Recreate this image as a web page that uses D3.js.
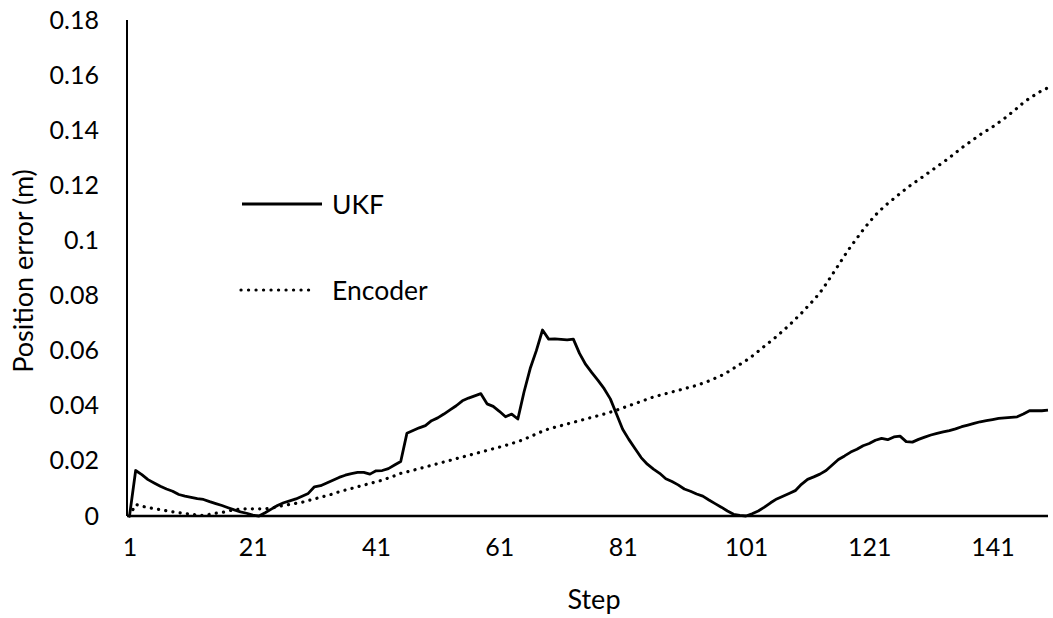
<!DOCTYPE html>
<html>
<head>
<meta charset="utf-8">
<script src="https://cdn.jsdelivr.net/npm/d3@7"></script>
<style>
  html, body { margin: 0; padding: 0; background: #fff; }
  svg { display: block; font-family: Lato, "Noto Sans", sans-serif; }
</style>
</head>
<body>
<svg id="chart" width="1053" height="618"></svg>
<script>
// ---- data ----
const steps = d3.range(1, 151);
const xTickLabels = [1, 21, 41, 61, 81, 101, 121, 141];
const yTickLabels = [0, 0.02, 0.04, 0.06, 0.08, 0.1, 0.12, 0.14, 0.16, 0.18];
const seriesNames = ["UKF", "Encoder"];

const ukf = [
  0.0000, 0.0165, 0.0150, 0.0132, 0.0120, 0.0108, 0.0098, 0.0090, 0.0078, 0.0072,
  0.0068, 0.0063, 0.0060, 0.0052, 0.0045, 0.0038, 0.0030, 0.0022, 0.0015, 0.0010,
  0.0003, 0.0000, 0.0012, 0.0025, 0.0038, 0.0048, 0.0055, 0.0062, 0.0072, 0.0082,
  0.0106, 0.0110, 0.0120, 0.0130, 0.0140, 0.0148, 0.0154, 0.0158, 0.0158, 0.0152,
  0.0164, 0.0165, 0.0172, 0.0185, 0.0198, 0.0300, 0.0310, 0.0320, 0.0328, 0.0346,
  0.0356, 0.0370, 0.0385, 0.0400, 0.0418, 0.0428, 0.0436, 0.0444, 0.0407, 0.0398,
  0.0380, 0.0360, 0.0370, 0.0352, 0.0450, 0.0535, 0.0600, 0.0675, 0.0642, 0.0643,
  0.0641, 0.0639, 0.0642, 0.0590, 0.0550, 0.0520, 0.0492, 0.0462, 0.0425, 0.0370,
  0.0315, 0.0278, 0.0245, 0.0212, 0.0188, 0.0170, 0.0155, 0.0135, 0.0125, 0.0113,
  0.0098, 0.0090, 0.0080, 0.0072, 0.0058, 0.0045, 0.0032, 0.0018, 0.0006, 0.0002,
  0.0000, 0.0008, 0.0018, 0.0032, 0.0048, 0.0062, 0.0072, 0.0082, 0.0092, 0.0115,
  0.0133, 0.0142, 0.0152, 0.0165, 0.0185, 0.0205, 0.0218, 0.0232, 0.0242, 0.0255,
  0.0263, 0.0275, 0.0282, 0.0277, 0.0287, 0.0290, 0.0270, 0.0268, 0.0278, 0.0286,
  0.0294, 0.0300, 0.0305, 0.0310, 0.0316, 0.0324, 0.0330, 0.0336, 0.0342, 0.0346,
  0.0350, 0.0354, 0.0356, 0.0358, 0.0360, 0.0370, 0.0382, 0.0382, 0.0382, 0.0384
];

const encoder = [
  0.0000, 0.0042, 0.0036, 0.0030, 0.0027, 0.0023, 0.0019, 0.0015, 0.0012, 0.0009,
  0.0007, 0.0003, 0.0002, 0.0006, 0.0010, 0.0013, 0.0018, 0.0023, 0.0025, 0.0026,
  0.0026, 0.0026, 0.0026, 0.0028, 0.0034, 0.0038, 0.0042, 0.0046, 0.0050, 0.0056,
  0.0062, 0.0068, 0.0074, 0.0080, 0.0088, 0.0094, 0.0100, 0.0106, 0.0112, 0.0118,
  0.0124, 0.0130, 0.0138, 0.0146, 0.0155, 0.0160, 0.0166, 0.0172, 0.0178, 0.0184,
  0.0190, 0.0196, 0.0202, 0.0208, 0.0214, 0.0220, 0.0226, 0.0232, 0.0238, 0.0244,
  0.0250, 0.0256, 0.0263, 0.0270, 0.0278, 0.0288, 0.0298, 0.0308, 0.0316, 0.0322,
  0.0328, 0.0334, 0.0340, 0.0346, 0.0352, 0.0358, 0.0364, 0.0370, 0.0377, 0.0384,
  0.0392, 0.0400, 0.0408, 0.0416, 0.0424, 0.0432, 0.0438, 0.0444, 0.0450, 0.0456,
  0.0462, 0.0468, 0.0474, 0.0482, 0.0490, 0.0500, 0.0510, 0.0522, 0.0536, 0.0550,
  0.0564, 0.0580, 0.0598, 0.0616, 0.0634, 0.0652, 0.0672, 0.0692, 0.0714, 0.0736,
  0.0760, 0.0784, 0.0810, 0.0842, 0.0876, 0.0910, 0.0945, 0.0978, 0.1008, 0.1038,
  0.1066, 0.1092, 0.1114, 0.1134, 0.1152, 0.1170, 0.1188, 0.1205, 0.1220, 0.1236,
  0.1252, 0.1268, 0.1284, 0.1300, 0.1318, 0.1336, 0.1352, 0.1368, 0.1384, 0.1398,
  0.1412, 0.1428, 0.1444, 0.1462, 0.1480, 0.1500, 0.1516, 0.1530, 0.1544, 0.1554
];

// ---- layout ----
const svg = d3.select("#chart");
const plotLeft = 127, plotRight = 1048, plotTop = 20, plotBottom = 516;
const tickFont = 25, titleFont = 27, legendFont = 26.5;

const x = d3.scaleLinear().domain([1, 150]).range([129.5, 1048]);
const y = d3.scaleLinear().domain([0, 0.18]).range([plotBottom, plotTop]);

// y axis
const yAxis = d3.axisLeft(y)
  .tickValues(yTickLabels)
  .tickSize(0)
  .tickPadding(28)
  .tickFormat(d => d === 0 ? "0" : String(+d.toFixed(2)));
const gy = svg.append("g").attr("transform", `translate(${plotLeft},0)`).call(yAxis);
gy.select(".domain").remove();
gy.selectAll("text").attr("font-size", tickFont).attr("fill", "#000")
  .attr("font-family", "Lato, 'Noto Sans', sans-serif");

// x axis
const xAxis = d3.axisBottom(x)
  .tickValues(xTickLabels)
  .tickSize(0)
  .tickPadding(22)
  .tickFormat(d3.format("d"));
const gx = svg.append("g").attr("transform", `translate(0,${plotBottom})`).call(xAxis);
gx.select(".domain").remove();
gx.selectAll("text").attr("font-size", tickFont).attr("fill", "#000")
  .attr("font-family", "Lato, 'Noto Sans', sans-serif");

// axis lines
svg.append("line").attr("x1", plotLeft).attr("x2", plotLeft).attr("y1", plotTop).attr("y2", plotBottom)
  .attr("stroke", "#000").attr("stroke-width", 2);
svg.append("line").attr("x1", plotLeft).attr("x2", plotRight).attr("y1", plotBottom).attr("y2", plotBottom)
  .attr("stroke", "#000").attr("stroke-width", 2.5);

// lines
const line = d3.line().x((d, i) => x(steps[i])).y(d => y(d));

svg.append("path").datum(encoder)
  .attr("d", line)
  .attr("fill", "none").attr("stroke", "#000")
  .attr("stroke-width", 3.2)
  .attr("stroke-linecap", "round")
  .attr("stroke-dasharray", "0.1 7.2");

svg.append("path").datum(ukf)
  .attr("d", line)
  .attr("fill", "none").attr("stroke", "#000")
  .attr("stroke-width", 2.8)
  .attr("stroke-linejoin", "round");

// axis titles
svg.append("text").attr("x", 594).attr("y", 609)
  .attr("text-anchor", "middle").attr("font-size", titleFont).text("Step");
svg.append("text")
  .attr("transform", "translate(33,271) rotate(-90)")
  .attr("text-anchor", "middle").attr("font-size", titleFont).text("Position error (m)");

// legend
const legend = svg.append("g");
legend.append("line").attr("x1", 242).attr("x2", 322).attr("y1", 204).attr("y2", 204)
  .attr("stroke", "#000").attr("stroke-width", 2.8);
legend.append("text").attr("x", 332).attr("y", 213.5).attr("font-size", legendFont).text(seriesNames[0]);
legend.append("line").attr("x1", 241).attr("x2", 316).attr("y1", 290).attr("y2", 290)
  .attr("stroke", "#000").attr("stroke-width", 3.2)
  .attr("stroke-linecap", "round").attr("stroke-dasharray", "0.1 7.4");
legend.append("text").attr("x", 332).attr("y", 299.5).attr("font-size", legendFont).text(seriesNames[1]);
</script>
</body>
</html>
